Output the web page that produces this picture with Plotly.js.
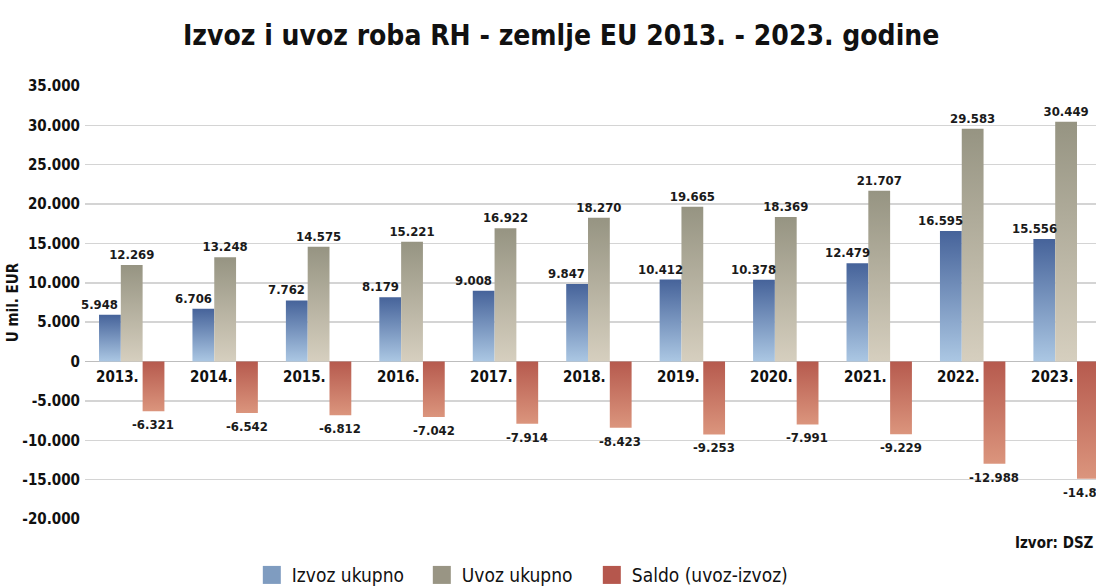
<!DOCTYPE html>
<html>
<head>
<meta charset="utf-8">
<script src="https://cdn.plot.ly/plotly-3.0.1.min.js"></script>
<style>
html,body{margin:0;padding:0;background:#fff;overflow:hidden;}
#chart{width:1096px;height:588px;}
</style>
</head>
<body>
<div id="chart"></div>
<script>
var years = ["2013.","2014.","2015.","2016.","2017.","2018.","2019.","2020.","2021.","2022.","2023."];
var izvoz = [5948, 6706, 7762, 8179, 9008, 9847, 10412, 10378, 12479, 16595, 15556];
var uvoz  = [12269, 13248, 14575, 15221, 16922, 18270, 19665, 18369, 21707, 29583, 30449];
var saldo = [-6321, -6542, -6812, -7042, -7914, -8423, -9253, -7991, -9229, -12988, -14893];
var yTickVals = [35000, 30000, 25000, 20000, 15000, 10000, 5000, 0, -5000, -10000, -15000, -20000];
var yTickText = ["35.000","30.000","25.000","20.000","15.000","10.000","5.000","0","-5.000","-10.000","-15.000","-20.000"];
var seriesNames = ["Izvoz ukupno", "Uvoz ukupno", "Saldo (uvoz-izvoz)"];

function fmt(v){
  var s = Math.abs(v).toString().replace(/\B(?=(\d{3})+(?!\d))/g, ".");
  return (v < 0 ? "-" : "") + s;
}

var FONT = "'DejaVu Sans Condensed', 'Liberation Sans Narrow', sans-serif";
var labelFont = {family: FONT, size: 13, color: "#1a1a1a", weight:700};

var traces = [
  {type:"bar", name:seriesNames[0], x:years, y:izvoz, marker:{color:"#7f9cc0"}, hoverinfo:"none"},
  {type:"bar", name:seriesNames[1], x:years, y:uvoz, marker:{color:"#999584"},
   text:uvoz.map(fmt), textposition:"outside", textfont:labelFont, constraintext:"none", cliponaxis:false, hoverinfo:"none"},
  {type:"bar", name:seriesNames[2], x:years, y:saldo, marker:{color:"#b5574d"}, hoverinfo:"none"}
];

var annotations = [];
years.forEach(function(yr, i){
  annotations.push({x:i, y:0, xref:"x", yref:"y", text:yr, showarrow:false,
    yanchor:"top", xshift:-14, yshift:-4, font:{family:FONT, size:15, color:"#111", weight:700}});
  annotations.push({x:i, y:izvoz[i], xref:"x", yref:"y", text:fmt(izvoz[i]), showarrow:false,
    yanchor:"bottom", xshift:-32, yshift:1, font:labelFont});
  annotations.push({x:i, y:saldo[i], xref:"x", yref:"y", text:fmt(saldo[i]), showarrow:false,
    yanchor:"top", xshift:21.5, yshift:-4, font:labelFont});
});
annotations.push({x:1, xref:"paper", xanchor:"right", y:-0.055, yref:"paper", yanchor:"middle",
  text:"Izvor: DSZ", showarrow:false, font:{family:FONT, size:15, color:"#111", weight:700}});

var layout = {
  width:1096, height:588,
  margin:{l:85, r:0, t:86, b:69, autoexpand:false},
  paper_bgcolor:"#fff", plot_bgcolor:"#fff",
  title:{text:"Izvoz i uvoz roba RH - zemlje EU 2013. - 2023. godine", x:0.512, xanchor:"center",
    y:0.94, yref:"container", yanchor:"middle",
    font:{family:FONT, size:28, color:"#111", weight:700}},
  barmode:"group", bargap:0.30, bargroupgap:0,
  xaxis:{type:"category", range:[-0.5, 10.32], showticklabels:false, showgrid:false, zeroline:false, showline:false, ticks:""},
  yaxis:{range:[-20000, 35000], tickvals:yTickVals, ticktext:yTickText, showgrid:true, gridcolor:"#d4d4d4", gridwidth:1.5,
    zeroline:true, zerolinecolor:"#bdbdbd", zerolinewidth:1.5, ticks:"", ticklabelstandoff:4,
    tickfont:{family:FONT, size:15, color:"#111", weight:700},
    title:{text:"U mil. EUR", standoff:0, font:{family:FONT, size:15, color:"#111", weight:700}}},
  showlegend:true,
  legend:{orientation:"h", x:0.165, xanchor:"left", yref:"container", y:0.022, yanchor:"middle",
    entrywidth:125, entrywidthmode:"pixels",
    font:{family:FONT, size:19, color:"#111"}, itemclick:false},
  annotations:annotations
};

Plotly.newPlot("chart", traces, layout, {displayModeBar:false, staticPlot:true}).then(function(gd){
  var svg = gd.querySelector(".main-svg");
  var ns = "http://www.w3.org/2000/svg";
  var defs = document.createElementNS(ns, "defs");
  var grads = [["#46639a","#abc7e3"],["#969482","#d6cfbf"],["#b65a4e","#db957d"]];
  grads.forEach(function(g, k){
    var lg = document.createElementNS(ns, "linearGradient");
    lg.setAttribute("id", "barGrad" + k);
    lg.setAttribute("x1","0"); lg.setAttribute("y1","0"); lg.setAttribute("x2","0"); lg.setAttribute("y2","1");
    [[0,g[0]],[1,g[1]]].forEach(function(s){
      var st = document.createElementNS(ns, "stop");
      st.setAttribute("offset", s[0]); st.setAttribute("stop-color", s[1]);
      lg.appendChild(st);
    });
    defs.appendChild(lg);
  });
  svg.insertBefore(defs, svg.firstChild);
  var groups = gd.querySelectorAll(".barlayer .trace.bars");
  groups.forEach(function(tg, k){
    tg.querySelectorAll(".point path").forEach(function(p){ p.style.fill = "url(#barGrad" + k + ")"; });
  });
  gd.querySelectorAll(".legend .legendpoints path").forEach(function(p){
    p.setAttribute("d", "M9,9H-9V-9H9Z");
  });
  gd.querySelectorAll(".legend [clip-path]").forEach(function(el){ el.removeAttribute("clip-path"); });
  gd.querySelectorAll(".legend .traces [style*='clip-path']").forEach(function(el){ el.style.clipPath = ""; });
});
</script>
</body>
</html>
